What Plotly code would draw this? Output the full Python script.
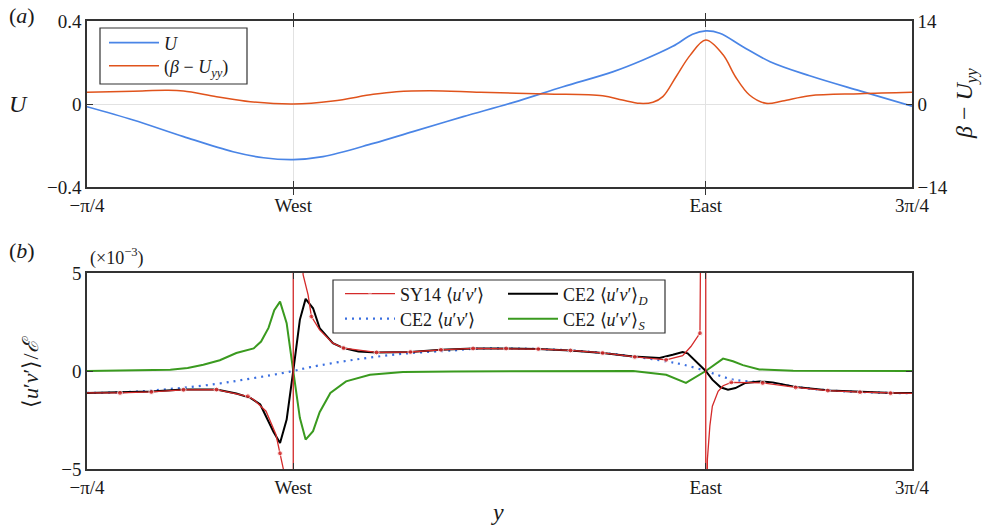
import numpy as np
import plotly.graph_objects as go

PI = np.pi

# ---------------- data (positions y given in units of pi) ----------------
# panel (a): mean flow U (left axis)
u_pos = [-0.25, -0.194, -0.133, -0.073, -0.036, 0.0, 0.036, 0.097, 0.145, 0.206,
         0.267, 0.327, 0.388, 0.424, 0.460, 0.484, 0.5, 0.517, 0.545, 0.578,
         0.626, 0.687, 0.75]
u_val = [-0.013, -0.077, -0.157, -0.23, -0.259, -0.268, -0.254, -0.19, -0.133, -0.061,
         0.008, 0.083, 0.156, 0.212, 0.278, 0.336, 0.352, 0.341, 0.276, 0.204,
         0.136, 0.063, -0.01]

# panel (a): beta - U_yy (right axis)
b_pos = [-0.25, -0.194, -0.154, -0.133, -0.093, -0.052, 0.0, 0.048, 0.097, 0.125,
         0.166, 0.227, 0.307, 0.375, 0.399, 0.420, 0.436, 0.448, 0.464, 0.481,
         0.5, 0.521, 0.536, 0.553, 0.573, 0.593, 0.626, 0.687, 0.75]
b_val = [1.97, 2.15, 2.3, 2.19, 1.24, 0.39, 0.0, 0.5, 1.63, 2.08,
         2.25, 1.97, 1.69, 1.4, 0.67, 0.11, 0.3, 1.24, 4.6, 8.2,
         10.8, 8.3, 4.6, 1.52, 0.11, 0.5, 1.4, 1.74, 1.97]

# panel (b): SY14 <u'v'> (x1e-3), with marker flags
sy14_pos = [-0.25, -0.210, -0.172, -0.133, -0.093, -0.055, -0.048, -0.033, -0.021, -0.016,
            -0.012, -0.0085, -0.0048, -0.0012, 0.0, 0.0, 0.0012, 0.0048, 0.0085, 0.012,
            0.018, 0.022, 0.032, 0.048, 0.061, 0.101, 0.142, 0.179, 0.218, 0.258,
            0.297, 0.336, 0.375, 0.414, 0.452, 0.472, 0.482, 0.493, 0.495, 0.496,
            0.498, 0.4994, 0.5, 0.5, 0.5006, 0.5012, 0.502, 0.505, 0.508, 0.515,
            0.521, 0.531, 0.548, 0.569, 0.609, 0.648, 0.687, 0.724, 0.75]
sy14_val = [-1.12, -1.12, -1.07, -0.96, -0.95, -1.29, -1.46, -2.05, -3.24, -4.2,
            -5.0, -7.9, -13.7, -55.0, -1000.0, 1000.0, 55.0, 13.0, 7.5, 4.9,
            3.88, 2.78, 2.1, 1.42, 1.17, 0.95, 0.97, 1.08, 1.15, 1.15,
            1.12, 1.05, 0.92, 0.72, 0.57, 0.78, 1.25, 1.93, 3.98, 5.0,
            10.0, 40.0, 1000.0, -1000.0, -18.0, -9.0, -4.5, -2.8, -1.8, -1.04,
            -0.75, -0.58, -0.58, -0.61, -0.84, -1.0, -1.08, -1.13, -1.14]
sy14_mark = [0, 1, 1, 1, 1, 1, 0, 0, 0, 1,
             0, 0, 0, 0, 0, 0, 0, 0, 0, 0,
             0, 1, 0, 0, 1, 1, 1, 1, 1, 1,
             1, 1, 1, 1, 1, 0, 0, 1, 0, 0,
             0, 0, 0, 0, 0, 0, 0, 0, 0, 0,
             0, 1, 0, 1, 1, 1, 1, 1, 0]

# panel (b): CE2 <u'v'> (total)
ce2_pos = [-0.25, -0.210, -0.173, -0.133, -0.093, -0.061, -0.028, 0.0, 0.021, 0.073,
           0.133, 0.194, 0.218, 0.258, 0.297, 0.336, 0.375, 0.412, 0.452, 0.473,
           0.5, 0.517, 0.533, 0.553, 0.581, 0.609, 0.650, 0.687, 0.727, 0.75]
ce2_val = [-1.12, -1.09, -1.0, -0.85, -0.66, -0.45, -0.22, 0.0, 0.2, 0.57,
           0.88, 1.05, 1.13, 1.15, 1.12, 1.05, 0.92, 0.74, 0.49, 0.32,
           0.0, -0.24, -0.44, -0.53, -0.6, -0.81, -0.99, -1.07, -1.12, -1.13]

# panel (b): CE2 <u'v'>_D
ce2d_pos = [-0.25, -0.210, -0.173, -0.133, -0.093, -0.069, -0.052, -0.040, -0.033, -0.024,
            -0.016, -0.008, 0.0, 0.008, 0.015, 0.024, 0.032, 0.048, 0.061, 0.079,
            0.101, 0.142, 0.179, 0.218, 0.258, 0.297, 0.336, 0.375, 0.412, 0.444,
            0.460, 0.472, 0.478, 0.488, 0.5, 0.508, 0.518, 0.527, 0.536, 0.548,
            0.565, 0.581, 0.609, 0.650, 0.687, 0.727, 0.75]
ce2d_val = [-1.12, -1.09, -1.04, -0.95, -0.95, -1.15, -1.37, -1.71, -2.3, -3.1,
            -3.67, -2.48, 0.0, 2.61, 3.68, 3.2, 2.19, 1.42, 1.17, 1.0,
            0.95, 0.97, 1.08, 1.15, 1.15, 1.12, 1.05, 0.92, 0.74, 0.66,
            0.83, 0.97, 0.9, 0.49, 0.0, -0.44, -0.83, -0.95, -0.87, -0.61,
            -0.53, -0.58, -0.81, -0.99, -1.07, -1.12, -1.12]

# panel (b): CE2 <u'v'>_S
ce2s_pos = [-0.25, -0.200, -0.149, -0.128, -0.109, -0.089, -0.069, -0.048, -0.039, -0.030,
            -0.023, -0.016, -0.008, 0.0, 0.008, 0.015, 0.024, 0.032, 0.045, 0.064,
            0.093, 0.133, 0.194, 0.412, 0.452, 0.476, 0.5, 0.521, 0.533, 0.545,
            0.565, 0.606, 0.75]
ce2s_val = [0.0, 0.02, 0.07, 0.15, 0.32, 0.55, 0.92, 1.15, 1.5, 2.2,
            3.1, 3.54, 2.44, 0.0, -2.39, -3.5, -3.07, -2.1, -1.12, -0.53,
            -0.19, -0.05, -0.02, 0.0, -0.19, -0.61, 0.0, 0.63, 0.5, 0.3,
            0.08, 0.01, 0.0]

x_ticks_over_pi = [-0.25, 0.0, 0.5, 0.75]
x_ticktext = ["\u2212\u03c0/4", "West", "East", "3\u03c0/4"]
ya_ticks = [-0.4, 0.0, 0.4]
ya_text = ["\u22120.4", "0", "0.4"]
ya2_ticks = [-14, 0, 14]
ya2_text = ["\u221214", "0", "14"]
yb_ticks = [-5, 0, 5]
yb_text = ["\u22125", "0", "5"]

# ---------------- figure ----------------
W, H = 992, 528
FONT = "Liberation Serif, Times New Roman, serif"
TXT = "#1a1a1a"
AX = "#333333"
GRID = "#e2e2e2"


def fx(p):
    return p / W


def fy(p):
    return 1 - p / H


def pis(a):
    return [v * PI for v in a]


fig = go.Figure()

uv = "\u27e8<i>u</i>\u2032<i>v</i>\u2032\u27e9"

fig.add_trace(go.Scatter(x=pis(u_pos), y=u_val, mode="lines", name="<i>U</i>",
                         line=dict(color="#4a85e6", width=1.7, shape="spline"),
                         xaxis="x", yaxis="y", legend="legend"))
fig.add_trace(go.Scatter(x=pis(b_pos), y=b_val, mode="lines",
                         name="(<i>β</i> \u2212 <i>U</i><sub><i>yy</i></sub>)",
                         line=dict(color="#e0531c", width=1.5, shape="spline"),
                         xaxis="x", yaxis="y2", legend="legend6"))
fig.add_trace(go.Scatter(x=pis(ce2s_pos), y=ce2s_val, mode="lines", name="CE2 " + uv + "<sub><i>S</i></sub>",
                         line=dict(color="#3a9a1f", width=2),
                         xaxis="x2", yaxis="y3", legend="legend5"))
fig.add_trace(go.Scatter(x=pis(ce2_pos), y=ce2_val, mode="lines", name="CE2 " + uv,
                         line=dict(color="#3a6fe0", width=2.2, dash="2px,5px", shape="spline"),
                         xaxis="x2", yaxis="y3", legend="legend4"))
fig.add_trace(go.Scatter(x=pis(ce2d_pos), y=ce2d_val, mode="lines", name="CE2 " + uv + "<sub><i>D</i></sub>",
                         line=dict(color="#000000", width=2),
                         xaxis="x2", yaxis="y3", legend="legend3"))
fig.add_trace(go.Scatter(x=pis(sy14_pos), y=sy14_val, mode="lines+markers", name="SY14 " + uv,
                         line=dict(color="#d42a2a", width=1.3),
                         marker=dict(color="#d42a2a", size=[5 if m else 0 for m in sy14_mark]),
                         xaxis="x2", yaxis="y3", legend="legend2"))

tickfont = dict(family=FONT, size=19, color=TXT)
common_x = dict(domain=[fx(87), fx(912)], range=[-PI / 4, 3 * PI / 4],
                tickvals=pis(x_ticks_over_pi), ticktext=x_ticktext,
                ticks="inside", ticklen=6, tickwidth=1.2, tickcolor=AX,
                showline=True, linecolor=AX, linewidth=1.6, mirror="allticks",
                showgrid=True, gridcolor=GRID, gridwidth=1, zeroline=False,
                tickfont=tickfont, automargin=False)
common_y = dict(ticks="inside", ticklen=6, tickwidth=1.2, tickcolor=AX,
                showline=True, linecolor=AX, linewidth=1.6,
                showgrid=True, gridcolor=GRID, gridwidth=1, zeroline=False,
                tickfont=tickfont, automargin=False)

legfont = dict(family=FONT, size=18, color=TXT)


def leg(xpx, ypx):
    return dict(x=fx(xpx), y=fy(ypx), xanchor="left", yanchor="middle",
                bgcolor="rgba(0,0,0,0)", borderwidth=0, font=legfont,
                tracegroupgap=0, itemwidth=50)


fig.update_layout(
    template="none",
    width=W, height=H,
    margin=dict(l=0, r=0, t=0, b=0, autoexpand=False),
    paper_bgcolor="white", plot_bgcolor="white",
    font=dict(family=FONT, size=18, color=TXT),
    xaxis=dict(anchor="y", **common_x),
    yaxis=dict(anchor="x", domain=[fy(187), fy(21)], range=[-0.4, 0.4],
               tickvals=ya_ticks, ticktext=ya_text, mirror=True, **common_y),
    yaxis2=dict(anchor="x", overlaying="y", side="right", range=[-14, 14],
                tickvals=ya2_ticks, ticktext=ya2_text,
                ticks="inside", ticklen=6, tickwidth=1.2, tickcolor=AX,
                showline=True, linecolor=AX, linewidth=1.6, showgrid=False,
                zeroline=False, tickfont=tickfont, automargin=False),
    xaxis2=dict(anchor="y3", **common_x),
    yaxis3=dict(anchor="x2", domain=[fy(469), fy(273)], range=[-5, 5],
                tickvals=yb_ticks, ticktext=yb_text, mirror="allticks", **common_y),
    legend=leg(104, 43),
    legend6=leg(104, 66),
    legend2=leg(340, 294),
    legend4=leg(340, 319),
    legend3=leg(503, 294),
    legend5=leg(503, 319),
    showlegend=True,
)

# legend frames
fig.add_shape(type="rect", xref="paper", yref="paper",
              x0=fx(100), x1=fx(247), y0=fy(84), y1=fy(28),
              line=dict(color=AX, width=1.2), fillcolor="white", layer="above")
fig.add_shape(type="rect", xref="paper", yref="paper",
              x0=fx(333), x1=fx(665), y0=fy(333), y1=fy(280),
              line=dict(color=AX, width=1.2), fillcolor="white", layer="above")


def ann(text, x, y, size=18, angle=0):
    fig.add_annotation(text=text, x=fx(x), y=fy(y), xref="paper", yref="paper",
                       showarrow=False, textangle=angle, xanchor="center", yanchor="middle",
                       font=dict(family=FONT, size=size, color=TXT))


ann("(<i>a</i>)", 22, 16, size=22)
ann("(<i>b</i>)", 22, 251, size=22)
ann("(\u00d710<sup>\u22123</sup>)", 117, 257, size=18)
ann("<i>U</i>", 18, 104, size=24)
ann("<i>β</i> \u2212 <i>U</i><sub><i>yy</i></sub>", 966, 104, size=24, angle=-90)
ann(uv + "/<i>\u2130</i>", 30, 372, size=22, angle=-90)
ann("<i>y</i>", 497, 512, size=24)

fig.write_html("out.html", config={"displayModeBar": False},
               post_script="document.body.style.margin='0';document.body.style.overflow='hidden';")
